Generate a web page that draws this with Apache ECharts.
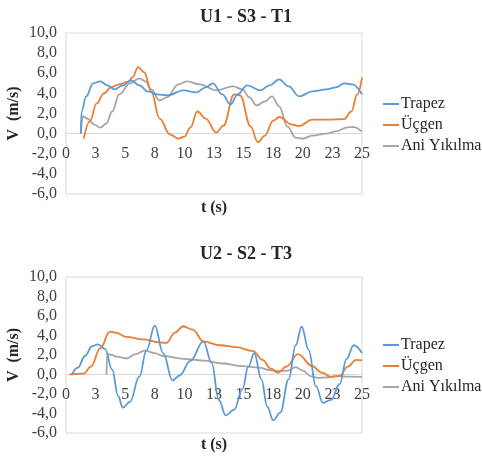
<!DOCTYPE html>
<html>
<head>
<meta charset="utf-8">
<script src="https://cdn.jsdelivr.net/npm/echarts@6/dist/echarts.min.js"></script>
<style>
html,body{margin:0;padding:0;background:#fff;}
#chart{width:482px;height:457px;}
</style>
</head>
<body>
<div id="chart"></div>
<script>
// series names and titles
var seriesNames = ['Trapez', 'Üçgen', 'Ani Yıkılma'];
var titles = ['U1 - S3 - T1', 'U2 - S2 - T3'];
var yTicks = [-6, -4, -2, 0, 2, 4, 6, 8, 10];

// chart 1 : U1 - S3 - T1
var t1Trapez = [1.25,1.32,1.7,2.3,2.9,3.5,4.1,4.8,5.5,6.2,6.9,7.7,8.6,9.9,11.0,11.8,12.4,13.2,13.9,14.5,15.3,16.4,17.2,18.0,18.8,19.7,20.8,22.0,22.8,23.5,24.2,25.0];
var v1Trapez = [0,2.2,3.7,5.0,5.2,4.8,4.4,4.8,5.3,4.8,4.2,3.9,3.8,4.3,4.1,4.6,5.0,3.9,2.9,3.9,4.8,4.3,4.8,5.4,4.7,3.7,4.2,4.4,4.6,5.0,4.9,3.9];
var t1Ucgen = [1.5,2.0,2.6,3.2,3.8,4.5,5.3,5.6,6.1,6.6,7.2,7.9,8.8,9.5,10.0,10.5,11.1,11.8,12.7,13.3,14.2,14.7,15.6,16.2,16.8,17.5,18.0,19.1,19.7,20.8,22.0,23.5,24.1,24.6,25.0];
var v1Ucgen = [-0.5,1.2,3.0,4.0,4.6,4.9,5.2,5.6,6.6,6.1,4.2,1.5,-0.1,-0.5,-0.3,0.6,2.2,1.5,0.1,0.8,3.9,3.8,0.7,-0.85,-0.2,1.3,1.65,0.9,0.75,1.4,1.4,1.45,2.2,3.9,5.6];
var t1Ani = [1.25,1.45,1.8,2.4,2.9,3.4,3.9,4.5,5.4,6.2,6.7,7.2,7.9,8.5,9.5,10.2,11.3,12.7,14.1,14.9,15.5,16.1,16.8,17.4,18.0,18.7,19.4,20.0,20.8,22.0,22.8,23.8,24.3,25.0];
var v1Ani = [0,1.7,1.5,0.9,0.6,1.0,2.2,3.9,5.0,5.5,5.2,4.4,3.3,3.6,4.9,5.2,4.9,4.3,4.7,4.4,3.6,2.8,3.2,3.7,2.7,0.7,-0.4,-0.5,-0.2,0.0,0.23,0.63,0.65,0.2];

// chart 2 : U2 - S2 - T3
var t2Trapez = [0.5,1.0,1.6,2.2,2.7,3.3,3.9,4.4,4.8,5.4,6.2,6.8,7.5,8.2,9.0,9.6,10.5,11.6,12.3,12.9,13.5,14.2,14.9,15.4,15.9,16.5,17.0,17.5,18.1,18.8,19.4,19.9,20.5,21.1,21.7,22.4,23.1,23.7,24.3,25.0];
var v2Trapez = [0,0.7,1.9,2.9,3.1,2.6,0.5,-2.2,-3.4,-2.8,-0.2,2.5,5.0,2.2,-0.6,-0.1,1.4,3.4,1.2,-2.6,-4.2,-3.6,-1.5,0.8,2.2,-0.5,-3.3,-4.7,-3.9,-0.5,3.0,4.9,2.5,-1.2,-2.9,-2.6,-1.0,1.6,3.0,2.2];
var t2Ucgen = [0.3,1.5,2.1,2.9,3.7,4.2,5.1,6.5,7.9,8.5,9.2,9.9,10.7,11.6,13.0,14.4,15.8,16.6,17.3,17.9,18.6,19.6,20.8,21.6,22.4,23.1,23.8,24.5,25.0];
var v2Ucgen = [0,0.1,0.8,2.7,4.4,4.3,3.85,3.6,3.3,3.25,4.3,4.95,4.6,3.4,3.0,2.8,2.4,1.5,0.6,0.17,0.8,2.1,0.85,0.2,-0.25,-0.15,0.8,1.5,1.45];
var t2Ani = [3.42,3.48,3.7,4.4,5.1,5.9,6.65,7.5,8.2,9.9,11.6,13.25,14.9,16.3,17.2,18.0,18.7,19.4,20.0,20.7,21.3,22.0,22.8,24.0,25.0];
var v2Ani = [0,2.1,2.05,1.8,1.64,2.1,2.45,2.2,1.9,1.6,1.43,1.13,0.85,0.7,0.45,0.35,0.4,0.75,0.4,-0.2,-0.35,-0.3,-0.17,-0.22,-0.25];

var colors = ['#5B9BD5', '#ED7D31', '#A5A5A5'];
var serif = 'Liberation Serif';

function pairs(ts, vs){
    var out = [];
    for (var i = 0; i < ts.length; i++) out.push([ts[i], vs[i]]);
    return out;
}

var grids = [
    {left: 66, top: 33, width: 296, height: 161},
    {left: 66, top: 277, width: 296, height: 156}
];
var titleTops = [3, 240];
var legendTops = [91, 332];
var xNameGaps = [66, 62];
var yMin = yTicks[0], yMax = yTicks[yTicks.length - 1];

var chartData = [
    [pairs(t1Trapez, v1Trapez), pairs(t1Ucgen, v1Ucgen), pairs(t1Ani, v1Ani)],
    [pairs(t2Trapez, v2Trapez), pairs(t2Ucgen, v2Ucgen), pairs(t2Ani, v2Ani)]
];

var option = {
    animation: false,
    color: colors,
    title: [], grid: [], xAxis: [], yAxis: [], legend: [], series: []
};

for (var g = 0; g < 2; g++) {
    // x axis sits on the zero line, like Excel's crossing axis
    var zeroOffset = -grids[g].height * (0 - yMin) / (yMax - yMin);
    option.title.push({
        text: titles[g], left: 241, textAlign: 'center', top: titleTops[g],
        textStyle: {fontFamily: serif, fontSize: 18, fontWeight: 'bold', color: '#262626'}
    });
    option.grid.push(Object.assign({show: true, borderColor: '#d9d9d9', borderWidth: 1,
        containLabel: false, outerBoundsMode: 'none'}, grids[g]));
    option.xAxis.push({
        type: 'value', gridIndex: g, min: 0, max: 25, interval: 2.5,
        position: 'bottom', offset: zeroOffset,
        name: 't (s)', nameLocation: 'middle', nameGap: xNameGaps[g], nameMoveOverlap: false,
        nameTextStyle: {fontFamily: serif, fontSize: 16, fontWeight: 'bold', color: '#262626'},
        axisLine: {show: true, onZero: false, lineStyle: {color: '#d9d9d9', width: 1}},
        axisTick: {show: false},
        splitLine: {show: false},
        axisLabel: {
            fontFamily: serif, fontSize: 16, color: '#404040', margin: 12,
            formatter: function(v){ return String(Math.round(v)); }
        }
    });
    option.yAxis.push({
        type: 'value', gridIndex: g, min: yMin, max: yMax, interval: 2,
        name: 'V  (m/s)', nameLocation: 'middle', nameGap: 44, nameMoveOverlap: false,
        nameTextStyle: {fontFamily: serif, fontSize: 16, fontWeight: 'bold', color: '#262626'},
        axisLine: {show: false}, axisTick: {show: false}, splitLine: {show: false},
        axisLabel: {
            fontFamily: serif, fontSize: 16, color: '#404040', margin: 9,
            formatter: function(v){ return v.toFixed(1).replace('.', ','); }
        }
    });
    option.legend.push({
        orient: 'vertical', left: 378, top: legendTops[g], itemGap: 5,
        icon: 'rect', itemWidth: 16, itemHeight: 2,
        textStyle: {fontFamily: serif, fontSize: 16, color: '#262626', padding: [0, 0, 0, -3]},
        data: seriesNames
    });
    for (var s = 0; s < 3; s++) {
        option.series.push({
            name: seriesNames[s], type: 'line', xAxisIndex: g, yAxisIndex: g,
            data: chartData[g][s], smooth: 0.4, smoothMonotone: 'x',
            showSymbol: false, symbol: 'none',
            lineStyle: {width: 1.8, color: colors[s]},
            z: 3 - s
        });
    }
}

var myChart = echarts.init(document.getElementById('chart'));
myChart.setOption(option);
</script>
</body>
</html>
